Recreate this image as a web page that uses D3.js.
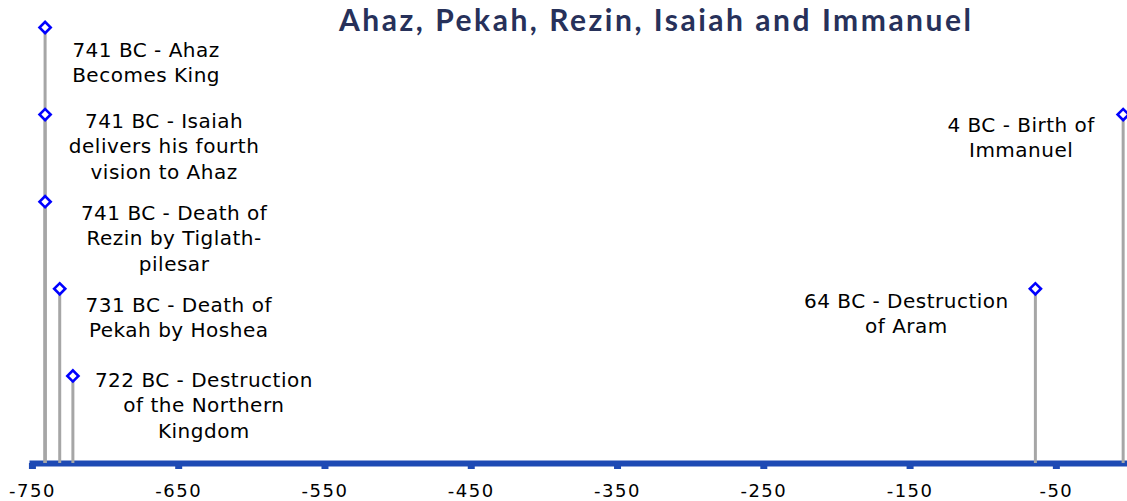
<!DOCTYPE html>
<html>
<head>
<meta charset="utf-8">
<script src="https://cdn.jsdelivr.net/npm/d3@7"></script>
<style>
  body { margin: 0; background: #fff; }
  svg { display: block; }
  .label { font-family: "DejaVu Sans", Verdana, sans-serif; font-size: 20px; letter-spacing: 0.5px; fill: #000; }
  .tick text { font-family: "DejaVu Sans", Verdana, sans-serif; font-size: 18px; letter-spacing: 1.5px; fill: #000; }
</style>
</head>
<body>
<div id="chart"></div>
<script>
// events on the timeline
var years = [-741, -741, -741, -731, -722, -64, -4];
var levels = [5, 4, 3, 2, 1, 2, 4];
var labels = [
  ["741 BC - Ahaz", "Becomes King"],
  ["741 BC - Isaiah", "delivers his fourth", "vision to Ahaz"],
  ["741 BC - Death of", "Rezin by Tiglath-", "pilesar"],
  ["731 BC - Death of", "Pekah by Hoshea"],
  ["722 BC - Destruction", "of the Northern", "Kingdom"],
  ["64 BC - Destruction", "of Aram"],
  ["4 BC - Birth of", "Immanuel"]
];
var tickValues = [-750, -650, -550, -450, -350, -250, -150, -50];
var title = "Ahaz, Pekah, Rezin, Isaiah and Immanuel";

// where each label sits relative to its marker
var labelDx = [101, 119, 129, 119, 131, -129, -102];
var labelDy = [29, 13, 18, 23, 11, 19, 17];
var lineHeight = 25.5;

var width = 1127, height = 501;
var axisY = 463;

var x = d3.scaleLinear().domain([-752, 0]).range([29, 1129]);
var y = d3.scaleLinear().domain([0, 5]).range([axisY, 27.5]);

var svg = d3.select("#chart").append("svg")
    .attr("width", width)
    .attr("height", height);

// title
svg.append("text")
    .attr("x", 655)
    .attr("y", 31)
    .attr("text-anchor", "middle")
    .attr("textLength", 632)
    .attr("lengthAdjust", "spacing")
    .style("font-family", "Lato, 'Open Sans', sans-serif")
    .style("font-weight", "bold")
    .style("font-size", "30px")
    .style("fill", "#27315a")
    .text(title);

var events = years.map(function(d, i) {
  return {year: d, level: levels[i], lines: labels[i], dx: labelDx[i], dy: labelDy[i]};
});

// the axis
var axis = svg.append("g")
    .attr("transform", "translate(0," + axisY + ")")
    .call(d3.axisBottom(x).tickValues(tickValues).tickSizeInner(6).tickSizeOuter(0)
      .tickFormat(function(d) { return String(d); }));

axis.select(".domain")
    .attr("stroke", "#1e4ab4")
    .attr("stroke-width", 6);
axis.selectAll(".tick line")
    .attr("stroke", "#1e4ab4")
    .attr("stroke-width", 7);
axis.selectAll(".tick text")
    .attr("y", 34)
    .attr("dy", 0);

// stems
svg.selectAll(".stem")
    .data(events)
  .enter().append("line")
    .attr("class", "stem")
    .attr("x1", function(d) { return x(d.year); })
    .attr("x2", function(d) { return x(d.year); })
    .attr("y1", function(d) { return y(d.level); })
    .attr("y2", axisY)
    .attr("stroke", "#a6a6a6")
    .attr("stroke-width", 3);

// markers
svg.selectAll(".marker")
    .data(events)
  .enter().append("path")
    .attr("class", "marker")
    .attr("d", d3.symbol(d3.symbolSquare, 62))
    .attr("transform", function(d) { return "translate(" + x(d.year) + "," + y(d.level) + ") rotate(45)"; })
    .attr("fill", "#fff")
    .attr("stroke", "#0000ff")
    .attr("stroke-width", 2.6);

// labels
var label = svg.selectAll(".label")
    .data(events)
  .enter().append("text")
    .attr("class", "label")
    .attr("text-anchor", "middle")
    .attr("transform", function(d) { return "translate(" + (x(d.year) + d.dx) + "," + (y(d.level) + d.dy) + ")"; });

label.selectAll("tspan")
    .data(function(d) { return d.lines; })
  .enter().append("tspan")
    .attr("x", 0)
    .attr("y", function(d, i) { return i * lineHeight; })
    .text(function(d) { return d; });
</script>
</body>
</html>
